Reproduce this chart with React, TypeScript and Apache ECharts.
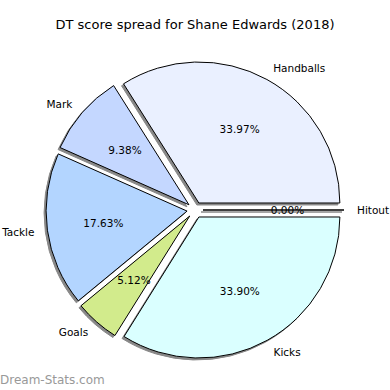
import React, { useEffect, useRef } from "react";
import * as echarts from "echarts";

const categories = ["Hitout", "Handballs", "Mark", "Tackle", "Goals", "Kicks"];
const values = [0.0, 33.97, 9.38, 17.63, 5.12, 33.9];
const colors = ["#ffffff", "#EAF0FF", "#C4D7FF", "#B3D5FF", "#D2EB8C", "#DAFFFF"];
const titleText = "DT score spread for Shane Edwards (2018)";
const watermark = "Dream-Stats.com";

const CX = 195;
const CY = 210;
const R = 141;
const OFFSET = 8;
const FONT = "DejaVu Sans";

export default function App() {
  const ref = useRef<HTMLDivElement>(null);
  useEffect(() => {
    if (!ref.current) return;
    const chart = echarts.init(ref.current, undefined, { renderer: "svg" });
    const mainData = categories.map((c, i) => ({
      name: c,
      value: values[i],
      selected: true,
      itemStyle: { color: colors[i] },
    }));
    const shadowData = categories.map((c, i) => ({
      name: c,
      value: values[i],
      selected: true,
    }));
    const common = {
      type: "pie",
      startAngle: 0,
      clockwise: false,
      selectedMode: "multiple",
      selectedOffset: OFFSET,
      avoidLabelOverlap: false,
      silent: true,
      emphasis: { disabled: true },
    };
    chart.setOption({
      animation: false,
      title: {
        text: titleText,
        left: "center",
        top: 18,
        padding: 0,
        textStyle: { fontFamily: FONT, fontSize: 13, fontWeight: "normal", color: "#000" },
      },
      graphic: [
        {
          type: "text",
          left: 0,
          top: 374,
          style: { text: watermark, fontFamily: FONT, fontSize: 12, fill: "#999", fontWeight: "normal" },
        },
      ],
      series: [
        {
          ...common,
          name: "shadow",
          z: 1,
          center: [CX - 2, CY + 2],
          radius: R,
          data: shadowData,
          itemStyle: { color: "#888888", borderColor: "#888888", borderWidth: 1 },
          label: { show: false },
          labelLine: { show: false },
          select: { itemStyle: { color: "#888888", borderColor: "#888888", borderWidth: 1 } },
        },
        {
          ...common,
          name: "main",
          z: 2,
          center: [CX, CY],
          radius: R,
          data: mainData,
          itemStyle: { borderColor: "#000", borderWidth: 1 },
          select: { itemStyle: { borderColor: "#000", borderWidth: 1 }, label: { color: "#000" } },
          label: {
            show: true,
            position: "outside",
            formatter: "{b}",
            fontFamily: FONT,
            fontSize: 10.5,
            color: "#000",
            distanceToLabelLine: 0,
          },
          labelLine: { show: false, length: 13, length2: 0 },
        },
        {
          ...common,
          name: "pct",
          z: 3,
          center: [CX, CY],
          radius: 163,
          data: shadowData,
          itemStyle: { color: "rgba(0,0,0,0)", borderWidth: 0 },
          select: { itemStyle: { color: "rgba(0,0,0,0)", borderWidth: 0 }, label: { color: "#000" } },
          label: {
            show: true,
            position: "inside",
            formatter: (p: any) => Number(p.value).toFixed(2) + "%",
            fontFamily: FONT,
            fontSize: 10.5,
            color: "#000",
          },
          labelLine: { show: false },
        },
      ],
    });
    return () => chart.dispose();
  }, []);
  return (
    <div
      ref={ref}
      style={{ position: "fixed", left: 0, top: 0, width: 390, height: 390, background: "#fff" }}
    />
  );
}
